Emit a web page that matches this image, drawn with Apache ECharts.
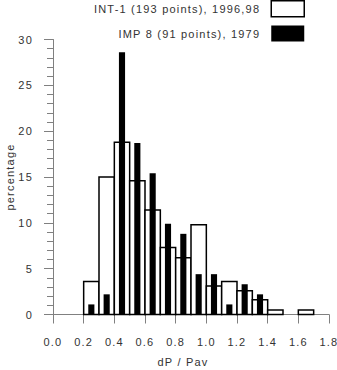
<!DOCTYPE html>
<html>
<head>
<meta charset="utf-8">
<script src="https://cdn.jsdelivr.net/npm/echarts@6/dist/echarts.min.js"></script>
<style>
  html, body { margin: 0; padding: 0; background: #fff; }
  #chart { width: 337px; height: 370px; }
  /* the original plot uses widely spaced lettering */
  #chart svg text { letter-spacing: 1.2px; }
</style>
</head>
<body>
<div id="chart"></div>
<script>
// histogram bins (left edge of each 0.1 wide bin)
var binStart = [0.2, 0.3, 0.4, 0.5, 0.6, 0.7, 0.8, 0.9, 1.0, 1.1, 1.2, 1.3, 1.4, 1.5, 1.6];
var binWidth = 0.1;
// INT-1 (193 points), 1996,98 - percentage per bin
var int1 = [3.6, 15.0, 18.8, 14.6, 11.4, 7.3, 6.2, 9.8, 3.1, 3.6, 2.6, 1.6, 0.5, 0, 0.5];
// IMP 8 (91 points), 1979 - percentage per bin
var imp8 = [1.1, 2.2, 28.6, 18.7, 15.4, 9.9, 8.8, 4.4, 4.4, 1.1, 3.3, 2.2, 0, 0, 0];
var xTicks = [0, 1.8, 0.2];
var yTicks = [0, 30, 5];

var seriesNames = ['INT-1 (193 points), 1996,98', 'IMP 8 (91 points), 1979'];
var font = 'Liberation Sans';

var whiteData = [];
var blackData = [];
for (var i = 0; i < binStart.length; i++) {
  if (int1[i] > 0) whiteData.push([binStart[i], binStart[i] + binWidth, int1[i]]);
  var c = binStart[i] + binWidth / 2;
  if (imp8[i] > 0) blackData.push([c - 0.02, c + 0.02, imp8[i]]);
}

function boxes(fill, stroke, lw) {
  return function (params, api) {
    var p0 = api.coord([api.value(0), api.value(2)]);
    var p1 = api.coord([api.value(1), 0]);
    return {
      type: 'rect',
      shape: { x: p0[0], y: p0[1], width: p1[0] - p0[0], height: p1[1] - p0[1] },
      style: { fill: fill, stroke: stroke, lineWidth: lw }
    };
  };
}

var chart = echarts.init(document.getElementById('chart'), null, { renderer: 'svg' });
chart.setOption({
  animation: false,
  backgroundColor: '#fff',
  textStyle: { fontFamily: font },
  grid: { left: 53, right: 8, top: 39.5, bottom: 55.5, outerBoundsMode: 'none', containLabel: false },
  legend: {
    orient: 'vertical',
    align: 'right',
    right: 32,
    top: 0,
    padding: 0,
    itemWidth: 33,
    itemHeight: 16,
    itemGap: 8,
    selectedMode: false,
    textStyle: { fontSize: 11, color: '#333', fontFamily: font, padding: [0, 6, 0, 0] },
    data: [
      { name: seriesNames[0], icon: 'rect', itemStyle: { color: '#fff', borderColor: '#000', borderWidth: 1.5 } },
      { name: seriesNames[1], icon: 'rect', itemStyle: { color: '#000', borderWidth: 0 } }
    ]
  },
  xAxis: {
    type: 'value',
    min: xTicks[0], max: xTicks[1], interval: xTicks[2],
    name: 'dP / Pav',
    nameLocation: 'middle',
    nameGap: 42,
    nameMoveOverlap: false,
    nameTextStyle: { fontSize: 11, color: '#333', padding: [0, 16, 0, 0] },
    axisLine: { lineStyle: { color: '#808080', width: 1 } },
    axisTick: { show: true, inside: false, length: 9, lineStyle: { color: '#808080' } },
    axisLabel: { fontSize: 11, color: '#333', margin: 22, formatter: function (v) { return v.toFixed(1); } },
    splitLine: { show: false }
  },
  yAxis: {
    type: 'value',
    min: yTicks[0], max: yTicks[1], interval: yTicks[2],
    name: 'percentage',
    nameLocation: 'middle',
    nameGap: 38,
    nameMoveOverlap: false,
    nameTextStyle: { fontSize: 11, color: '#333' },
    axisLine: { show: true, lineStyle: { color: '#808080', width: 1 } },
    axisTick: { show: true, inside: false, length: 9, lineStyle: { color: '#808080' } },
    minorTick: { show: true, splitNumber: 5, length: 6, lineStyle: { color: '#808080' } },
    axisLabel: { fontSize: 11, color: '#333', margin: 20 },
    splitLine: { show: false }
  },
  series: [
    {
      name: seriesNames[0],
      type: 'custom',
      itemStyle: { color: '#fff', borderColor: '#000' },
      renderItem: boxes('#fff', '#000', 1.5),
      data: whiteData,
      encode: { x: [0, 1], y: 2 }
    },
    {
      name: seriesNames[1],
      type: 'custom',
      itemStyle: { color: '#000' },
      renderItem: boxes('#000', null, 0),
      data: blackData,
      encode: { x: [0, 1], y: 2 }
    }
  ]
});
</script>
</body>
</html>
